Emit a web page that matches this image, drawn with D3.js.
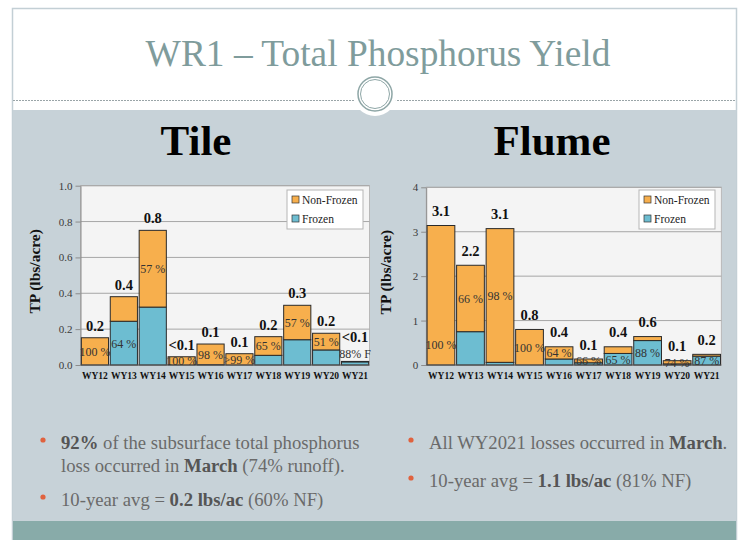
<!DOCTYPE html>
<html>
<head>
<meta charset="utf-8">
<script src="https://cdn.jsdelivr.net/npm/d3@7"></script>
<style>
  body { margin: 0; padding: 0; background: #fff; }
  text { font-family: "Liberation Serif", "Times New Roman", serif; }
</style>
</head>
<body>
<script>
// --- data ---
const years = ["WY12", "WY13", "WY14", "WY15", "WY16", "WY17", "WY18", "WY19", "WY20", "WY21"];

const tileFrozen    = [0, 0.244, 0.323, 0, 0.002, 0, 0.054, 0.141, 0.084, 0.0176];
const tileNonFrozen = [0.152, 0.137, 0.428, 0.046, 0.115, 0.063, 0.104, 0.192, 0.093, 0.0024];
const tileTotals    = ["0.2", "0.4", "0.8", "<0.1", "0.1", "0.1", "0.2", "0.3", "0.2", "<0.1"];
const tilePct       = ["100 %", "64 %", "57 %", "100 %", "98 %", ">99 %", "65 %", "57 %", "51 %", "88% F"];
const tileTicks     = [0, 0.2, 0.4, 0.6, 0.8, 1.0];

const flumeFrozen    = [0, 0.75, 0.06, 0, 0.135, 0.05, 0.26, 0.55, 0.025, 0.2];
const flumeNonFrozen = [3.14, 1.495, 3.01, 0.80, 0.275, 0.085, 0.15, 0.09, 0.072, 0.04];
const flumeTotals    = ["3.1", "2.2", "3.1", "0.8", "0.4", "0.1", "0.4", "0.6", "0.1", "0.2"];
const flumePct       = ["100 %", "66 %", "98 %", "100 %", "64 %", "66 %", "65 %", "88 %", "74 %", "87 %"];
const flumeTicks     = [0, 1, 2, 3, 4];

const seriesNames = ["Non-Frozen", "Frozen"];

const W = 743, H = 540;
const orange = "#F7AF4D", blue = "#6DBDD1";

const svg = d3.select("body").append("svg")
  .attr("width", W).attr("height", H)
  .attr("font-family", "Liberation Serif");

// slide background
svg.append("rect").attr("width", W).attr("height", H).attr("fill", "#fff");
svg.append("rect")
  .attr("x", 12.5).attr("y", 8.5).attr("width", 724).attr("height", 532)
  .attr("fill", "#fff").attr("stroke", "#C3CFD5").attr("stroke-width", 1.5);
svg.append("rect")
  .attr("x", 13).attr("y", 110).attr("width", 723).attr("height", 411)
  .attr("fill", "#C7D2D8");
svg.append("rect")
  .attr("x", 13).attr("y", 521).attr("width", 723).attr("height", 19)
  .attr("fill", "#88ABA9");
svg.append("line")
  .attr("x1", 13).attr("x2", 736).attr("y1", 100.5).attr("y2", 100.5)
  .attr("stroke", "#9AA5A8").attr("stroke-dasharray", "2,1");
svg.append("circle").attr("cx", 375).attr("cy", 94).attr("r", 22).attr("fill", "#fff");
svg.append("circle").attr("cx", 375).attr("cy", 94).attr("r", 17)
  .attr("fill", "none").attr("stroke", "#8EA6A6").attr("stroke-width", 1.5);
svg.append("circle").attr("cx", 375).attr("cy", 94).attr("r", 14.5)
  .attr("fill", "none").attr("stroke", "#8EA6A6").attr("stroke-width", 1);

svg.append("text")
  .attr("x", 378).attr("y", 66)
  .attr("text-anchor", "middle")
  .attr("font-size", 37.4).attr("fill", "#7F9C9C")
  .text("WR1 – Total Phosphorus Yield");

svg.append("text").attr("x", 196).attr("y", 155).attr("text-anchor", "middle")
  .attr("font-size", 43).attr("font-weight", "bold").attr("fill", "#000").text("Tile");
svg.append("text").attr("x", 552).attr("y", 155).attr("text-anchor", "middle")
  .attr("font-size", 43).attr("font-weight", "bold").attr("fill", "#000").text("Flume");

function drawChart(cfg) {
  const g = svg.append("g");
  const x = d3.scaleBand().domain(years).range([cfg.left, cfg.right])
    .paddingInner(0.06).paddingOuter(0.03);
  const y = d3.scaleLinear().domain([0, cfg.ticks[cfg.ticks.length - 1]])
    .range([cfg.bottom, cfg.top]);

  // plot area
  g.append("rect")
    .attr("x", cfg.left).attr("y", cfg.top)
    .attr("width", cfg.right - cfg.left).attr("height", cfg.bottom - cfg.top)
    .attr("fill", "#F4F4F4").attr("stroke", "#B8B8B8");

  g.append("g").selectAll("line").data(cfg.ticks.slice(1)).join("line")
    .attr("x1", cfg.left).attr("x2", cfg.right)
    .attr("y1", d => y(d)).attr("y2", d => y(d))
    .attr("stroke", "#A6A6A6");

  const yAxis = g.append("g")
    .attr("transform", `translate(${cfg.left},0)`)
    .call(d3.axisLeft(y).tickValues(cfg.ticks).tickFormat(cfg.fmt).tickSize(5).tickSizeOuter(0));
  yAxis.select(".domain").attr("stroke", "#8C8C8C");
  yAxis.selectAll(".tick line").attr("stroke", "#8C8C8C");
  yAxis.selectAll(".tick text")
    .attr("font-family", "Liberation Serif").attr("font-size", 11).attr("fill", "#3A3A3A");

  // stacked bars: frozen on bottom, non-frozen on top
  const rows = years.map((yr, i) => ({ yr, f: cfg.frozen[i], nf: cfg.nonFrozen[i], i }));
  const bars = g.append("g").attr("stroke", "#2A2A2A").attr("stroke-width", 1);
  bars.selectAll("rect.f").data(rows.filter(d => d.f > 0)).join("rect")
    .attr("x", d => x(d.yr)).attr("width", x.bandwidth())
    .attr("y", d => y(d.f)).attr("height", d => y(0) - y(d.f))
    .attr("fill", blue);
  bars.selectAll("rect.nf").data(rows.filter(d => d.nf > 0)).join("rect")
    .attr("x", d => x(d.yr)).attr("width", x.bandwidth())
    .attr("y", d => y(d.f + d.nf)).attr("height", d => y(d.f) - y(d.f + d.nf))
    .attr("fill", orange);

  g.append("line")
    .attr("x1", cfg.left).attr("x2", cfg.right)
    .attr("y1", cfg.bottom).attr("y2", cfg.bottom)
    .attr("stroke", "#5A5A5A");

  // percentage labels sit in the larger segment
  g.append("g").selectAll("text").data(rows).join("text")
    .attr("x", d => x(d.yr) + x.bandwidth() / 2)
    .attr("y", d => {
      if (cfg.pctAbove && cfg.pctAbove.includes(d.yr)) return y(d.f + d.nf) - 3;
      if (cfg.pctAt && cfg.pctAt[d.yr] !== undefined) return y(cfg.pctAt[d.yr]) + 4;
      const mid = d.f > d.nf ? d.f / 2 : d.f + d.nf / 2;
      return y(mid) + 4.5;
    })
    .attr("text-anchor", "middle")
    .attr("font-family", "DejaVu Sans Condensed, DejaVu Sans")
    .attr("font-size", 12).attr("fill", "#333")
    .text((d, i) => cfg.pct[i]);

  // totals above bars
  g.append("g").selectAll("text").data(rows).join("text")
    .attr("x", d => x(d.yr) + x.bandwidth() / 2)
    .attr("y", d => y(d.f + d.nf) - (cfg.pctAbove && cfg.pctAbove.includes(d.yr) ? 19 : cfg.totalGap))
    .attr("text-anchor", "middle")
    .attr("font-size", 14.5).attr("font-weight", "bold").attr("fill", "#111")
    .text((d, i) => cfg.totals[i]);

  g.append("g").selectAll("text").data(years).join("text")
    .attr("x", d => x(d) + x.bandwidth() / 2)
    .attr("y", cfg.bottom + 14)
    .attr("text-anchor", "middle")
    .attr("font-size", 9.5).attr("font-weight", "bold").attr("fill", "#111")
    .text(d => d);

  g.append("text")
    .attr("transform", `translate(${cfg.labelX},${(cfg.top + cfg.bottom) / 2 - 4}) rotate(-90)`)
    .attr("text-anchor", "middle")
    .attr("font-size", 15.5).attr("font-weight", "bold").attr("fill", "#111")
    .text("TP (lbs/acre)");

  // legend
  const lg = g.append("g").attr("transform", `translate(${cfg.legendX},190)`);
  lg.append("rect").attr("width", 76).attr("height", 39)
    .attr("fill", "#fff").attr("stroke", "#B5B5B5");
  lg.selectAll("rect.key").data(seriesNames).join("rect")
    .attr("x", 5).attr("y", (d, i) => 6 + i * 19).attr("width", 7).attr("height", 7)
    .attr("fill", (d, i) => i === 0 ? orange : blue)
    .attr("stroke", "#333").attr("stroke-width", 0.7);
  lg.selectAll("text").data(seriesNames).join("text")
    .attr("x", 15).attr("y", (d, i) => 13.5 + i * 19)
    .attr("font-size", 11.5).attr("fill", "#222")
    .text(d => d);
}

drawChart({
  left: 80.5, right: 369.5, top: 185.7, bottom: 365,
  ticks: tileTicks, fmt: d3.format(".1f"),
  frozen: tileFrozen, nonFrozen: tileNonFrozen,
  totals: tileTotals, pct: tilePct, totalGap: 7,
  pctAbove: ["WY21"], labelX: 40, legendX: 287
});

drawChart({
  left: 426.2, right: 721.4, top: 187.3, bottom: 365,
  ticks: flumeTicks, fmt: d3.format("d"),
  frozen: flumeFrozen, nonFrozen: flumeNonFrozen,
  totals: flumeTotals, pct: flumePct, totalGap: 9.5,
  pctAt: { WY12: 0.45 }, labelX: 391, legendX: 639
});

// bullet notes
const notes = [
  { x: 43, y: 449, lines: [[["b", "92%"], ["", " of the subsurface total phosphorus"]],
                           [["", "loss occurred in "], ["b", "March"], ["", " (74% runoff)."]]] },
  { x: 43, y: 506, lines: [[["", "10-year avg = "], ["b", "0.2 lbs/ac"], ["", " (60% NF)"]]] },
  { x: 411, y: 449, lines: [[["", "All WY2021 losses occurred in "], ["b", "March"], ["", "."]]] },
  { x: 411, y: 487, lines: [[["", "10-year avg = "], ["b", "1.1 lbs/ac"], ["", " (81% NF)"]]] }
];
notes.forEach(n => {
  svg.append("circle").attr("cx", n.x).attr("cy", n.y - 9).attr("r", 2.6).attr("fill", "#E0623E");
  n.lines.forEach((line, li) => {
    const t = svg.append("text")
      .attr("x", n.x + 18).attr("y", n.y + li * 23)
      .attr("font-size", 18.7).attr("fill", "#6A6A6A");
    line.forEach(([st, s]) => {
      t.append("tspan")
        .attr("font-weight", st === "b" ? "bold" : null)
        .attr("fill", st === "b" ? "#555" : null)
        .text(s);
    });
  });
});
</script>
</body>
</html>
